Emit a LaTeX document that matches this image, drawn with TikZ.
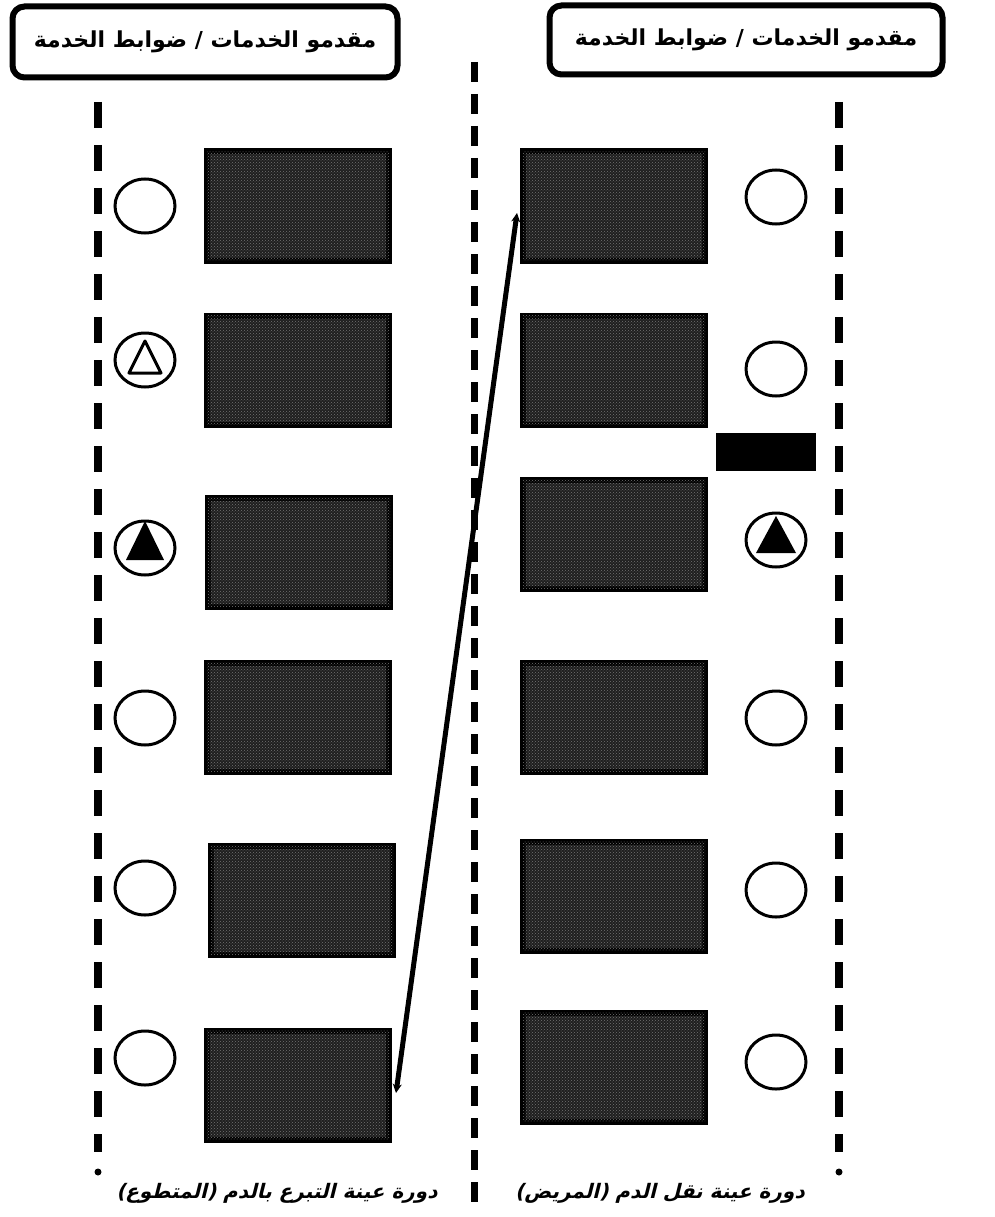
\documentclass[tikz,border=0pt]{standalone}
\usepackage{fontspec}
\usepackage{tikz}
\usetikzlibrary{arrows.meta,calc,patterns,positioning,shapes.geometric}
\TeXXeTstate=1
\newfontfamily\arabicbold[Script=Arabic]{DejaVu Sans Bold}
\newfontfamily\arabicslant[Script=Arabic,FakeSlant=0.25]{DejaVu Sans Bold}

\begin{document}
\begin{tikzpicture}[x=1pt,y=-1pt,
  header/.style={draw,line width=6pt,rounded corners=12pt,font=\arabicbold\fontsize{22}{26}\selectfont},
  stepcard/.style={draw,line width=6pt,fill=black!88,minimum width=182pt,minimum height=109pt,
    postaction={pattern=crosshatch dots,pattern color=black!55}},
  mark circ/.style={draw,line width=3pt,ellipse,minimum width=60pt,minimum height=54pt,inner sep=0pt},
  lane/.style={line width=8pt,dash pattern=on 26pt off 17pt},
  midlane/.style={line width=7pt,dash pattern=on 20pt off 12pt},
  caption/.style={font=\arabicslant\fontsize{20}{24}\selectfont}]
  \useasboundingbox (0,0) rectangle (994,1217);

  % headers
  \node[header,minimum width=385pt,minimum height=71pt] (hl) at (205,42) {\beginR مقدمو الخدمات / ضوابط الخدمة\endR};
  \node[header,minimum width=393pt,minimum height=69pt] (hr) at (746,40) {\beginR مقدمو الخدمات / ضوابط الخدمة\endR};

  % dashed lanes
  \coordinate (la) at (98,102);  \coordinate (lz) at (98,1152);
  \coordinate (ma) at (474,62);  \coordinate (mz) at (474,1214);
  \coordinate (ra) at (839,102); \coordinate (rz) at (839,1152);
  \draw[lane] (la) -- (lz);
  \draw[midlane] (ma) -- (mz);
  \draw[lane] (ra) -- (rz);
  \fill (98,1172) circle (3.5pt) (839,1172) circle (3.5pt);

  % donor side
  \foreach \i/\x/\y/\c in {1/298/206/206,2/298/370/360,3/299/552/548,4/298/717/718,5/302/900/888,6/298/1085/1058}{
    \node[stepcard] (lb\i) at (\x,\y) {};
    \node[mark circ] (lc\i) at (145,\c) {};
  }
  % patient side
  \foreach \i/\y/\c in {1/206/197,2/370/369,3/534/540,4/717/718,5/896/890,6/1067/1062}{
    \node[stepcard] (rb\i) at (614,\y) {};
    \node[mark circ] (rc\i) at (776,\c) {};
  }
  \node[fill=black,minimum width=100pt,minimum height=38pt,inner sep=0pt] (tag) at (766,452) {};

  % triangles
  \draw[line width=3pt,line join=round] ($(lc2)+(0,-19)$) -- ($(lc2)+(-16,13)$) -- ($(lc2)+(16,13)$) -- cycle;
  \fill ($(lc3)+(0,-27)$) -- ($(lc3)+(-19,12)$) -- ($(lc3)+(19,12)$) -- cycle;
  \fill ($(rc3)+(0,-24)$) -- ($(rc3)+(-20,13)$) -- ($(rc3)+(20,13)$) -- cycle;

  % link
  \draw[line width=5pt,{Stealth[length=9pt,width=9pt]}-{Stealth[length=9pt,width=9pt]}]
    ([yshift=-8pt,xshift=4pt]lb6.east) -- ([yshift=-7pt,xshift=-3pt]rb1.west);

  % captions
  \node[caption] (capl) at (277,1193) {\beginR دورة عينة التبرع بالدم (المتطوع)\endR};
  \node[caption] (capr) at (660,1193) {\beginR دورة عينة نقل الدم (المريض)\endR};
\end{tikzpicture}
\end{document}
